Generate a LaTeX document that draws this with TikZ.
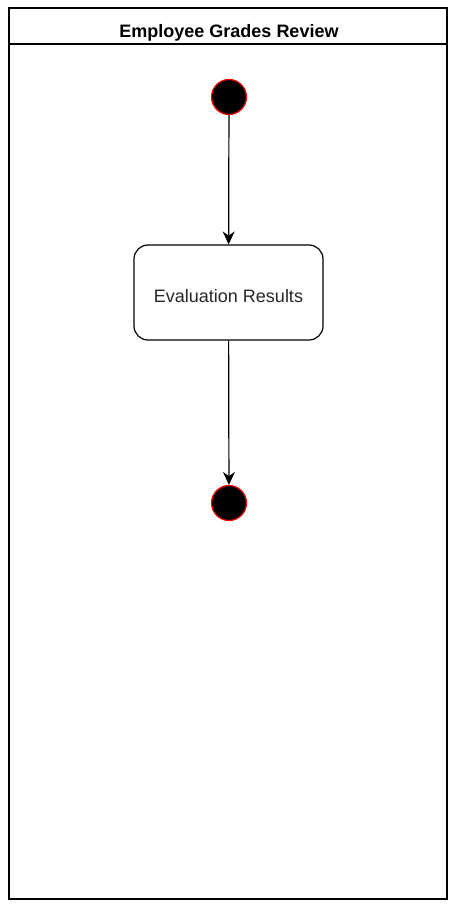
\documentclass[tikz,border=0pt]{standalone}
\usepackage{fontspec}
\setmainfont{Liberation Sans}
\usetikzlibrary{arrows.meta,positioning}
\definecolor{Rim}{HTML}{FF0000}

\begin{document}
\begin{tikzpicture}[x=1pt,y=-1pt,every node/.style={font=\fontsize{18}{21}\selectfont},
 statenode/.style={circle,fill=black,draw=Rim,line width=1.2pt,minimum size=35pt,inner sep=0pt},
 actbox/.style={draw,rounded corners=14pt,line width=1.2pt,minimum width=189pt,minimum height=95pt,
  text height=19pt,text depth=0pt,text=black!85},
 flow/.style={-{Stealth[length=13pt,width=12pt]},line width=1.2pt}]
\useasboundingbox (0,0) rectangle (458,912);
% lane frame with title bar
\draw[line width=1.5pt] (9,8) rectangle (447,899);
\draw[line width=1.5pt] (9,44) -- (447,44);
\node[font=\bfseries\fontsize{18}{21}\selectfont,text height=17pt,text depth=0pt] (lanetitle) at (229,29) {Employee Grades Review};
% activity flow
\node[statenode] (start) at (229,97) {};
\node[actbox] (results) at (228.5,292.5) {Evaluation Results};
\node[statenode] (stop) at (229,503) {};
\draw[flow] (start) -- (results);
\draw[flow] (results) -- (stop);
\end{tikzpicture}
\end{document}
